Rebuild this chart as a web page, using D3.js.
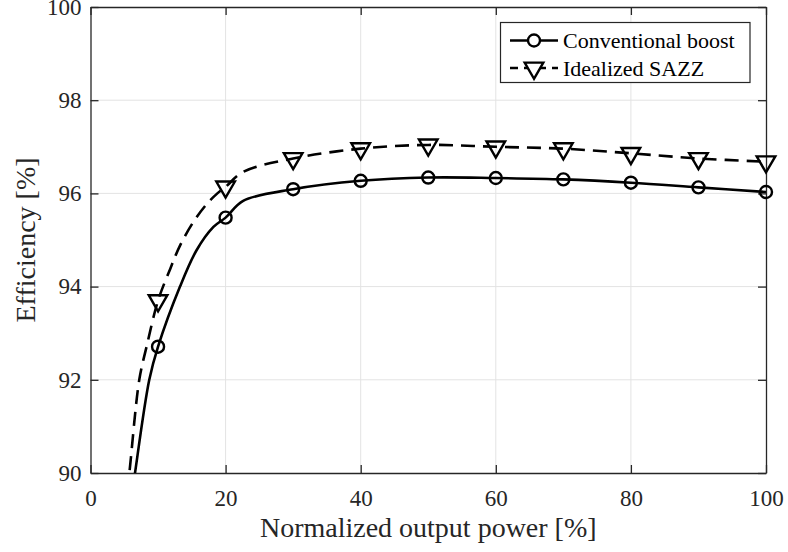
<!DOCTYPE html>
<html>
<head>
<meta charset="utf-8">
<script src="https://cdn.jsdelivr.net/npm/d3@7"></script>
<style>
  body { margin: 0; background: #fff; }
</style>
</head>
<body>
<svg id="chart" width="788" height="552"></svg>
<script>
// ticks
const xTicks = [0, 20, 40, 60, 80, 100];
const yTicks = [90, 92, 94, 96, 98, 100];

// marker points, every 10 %
const markerX = [10, 20, 30, 40, 50, 60, 70, 80, 90, 100];
const boostMarkers = [92.71, 95.48, 96.09, 96.27, 96.34, 96.33, 96.30, 96.23, 96.13, 96.03];
const sazzMarkers = [93.70, 96.14, 96.75, 96.96, 97.04, 97.00, 96.96, 96.86, 96.75, 96.68];

// curve points
const boostCurveX = [6.2, 6.59, 8.7, 10, 13.25, 15.7, 18.2, 20, 22.6, 30, 40, 50, 60, 70, 80, 90, 100];
const boostCurveY = [89.6, 90, 92, 92.71, 94, 94.78, 95.28, 95.48, 95.84, 96.09, 96.27, 96.34, 96.33, 96.30, 96.23, 96.13, 96.03];
const sazzCurveX = [5.4, 5.75, 7.22, 8.3, 10, 11.8, 13.25, 15.2, 17.2, 18.7, 20, 22.6, 30, 40, 50, 60, 70, 80, 90, 100];
const sazzCurveY = [89.6, 90, 92, 92.71, 93.70, 94.38, 94.88, 95.38, 95.77, 95.99, 96.14, 96.46, 96.75, 96.96, 97.04, 97.00, 96.96, 96.86, 96.75, 96.68];

const legendLabels = ['Conventional boost', 'Idealized SAZZ'];

const serif = '"Liberation Serif", Tinos, "Times New Roman", Times, serif';
const d3 = window.d3;
const svg = d3.select('#chart');

var margin = { top: 7, right: 22, bottom: 79, left: 90.5 },
  width = 788 - margin.left - margin.right,
  height = 552 - margin.top - margin.bottom;

var g = svg.append('g').attr('transform', `translate(${margin.left}, ${margin.top})`);

var x = d3.scaleLinear().domain([0, 100]).range([0, width]);
var y = d3.scaleLinear().domain([90, 100]).range([height, 0]);

// grid
g.append('g').selectAll('line').data(xTicks.slice(1, -1)).enter().append('line')
  .attr('x1', d => x(d)).attr('x2', d => x(d))
  .attr('y1', 0).attr('y2', height)
  .attr('stroke', '#e3e3e3').attr('stroke-width', 1);
g.append('g').selectAll('line').data(yTicks.slice(1, -1)).enter().append('line')
  .attr('y1', d => y(d)).attr('y2', d => y(d))
  .attr('x1', 0).attr('x2', width)
  .attr('stroke', '#e3e3e3').attr('stroke-width', 1);

// axes, MATLAB style: ticks inward on all four sides
const axisColor = '#262626';
function styleAxis(sel) {
  sel.attr('font-family', serif).attr('font-size', 23);
  sel.select('.domain').attr('stroke', axisColor).attr('stroke-width', 1.3);
  sel.selectAll('.tick line').attr('stroke', axisColor).attr('stroke-width', 1.3);
  sel.selectAll('text').attr('fill', '#262626')
    .style('font-family', serif).style('font-size', '23px');
}

var xAxis = g.append('g').attr('transform', `translate(0, ${height})`)
  .call(d3.axisBottom(x).tickValues(xTicks).tickSizeInner(-8).tickSizeOuter(0).tickPadding(17));
styleAxis(xAxis);
var xTop = g.append('g')
  .call(d3.axisTop(x).tickValues(xTicks).tickSizeInner(-8).tickSizeOuter(0).tickFormat(''));
styleAxis(xTop);
var yAxis = g.append('g')
  .call(d3.axisLeft(y).tickValues(yTicks).tickSizeInner(-8).tickSizeOuter(0).tickPadding(9));
styleAxis(yAxis);
var yRight = g.append('g').attr('transform', `translate(${width}, 0)`)
  .call(d3.axisRight(y).tickValues(yTicks).tickSizeInner(-8).tickSizeOuter(0).tickFormat(''));
styleAxis(yRight);

// clip for curves
svg.append('defs').append('clipPath').attr('id', 'plot-clip')
  .append('rect').attr('x', 0).attr('y', 0).attr('width', width).attr('height', height);

var line = d3.line()
  .x(d => x(d[0]))
  .y(d => y(d[1]))
  .curve(d3.curveCatmullRom.alpha(0.5));

var plot = g.append('g').attr('clip-path', 'url(#plot-clip)');

plot.append('path')
  .datum(sazzCurveX.map((v, i) => [v, sazzCurveY[i]]))
  .attr('d', line)
  .attr('fill', 'none').attr('stroke', '#000').attr('stroke-width', 2.6)
  .attr('stroke-dasharray', '14,8');

plot.append('path')
  .datum(boostCurveX.map((v, i) => [v, boostCurveY[i]]))
  .attr('d', line)
  .attr('fill', 'none').attr('stroke', '#000').attr('stroke-width', 2.6);

// markers
const tri = d3.symbol().type(d3.symbolTriangle).size(150);

g.append('g').selectAll('circle').data(markerX).enter().append('circle')
  .attr('cx', d => x(d))
  .attr('cy', (d, i) => y(boostMarkers[i]))
  .attr('r', 6)
  .attr('fill', 'none').attr('stroke', '#000').attr('stroke-width', 2.4);

g.append('g').selectAll('path').data(markerX).enter().append('path')
  .attr('d', tri)
  .attr('transform', (d, i) => `translate(${x(d)}, ${y(sazzMarkers[i])}) rotate(180)`)
  .attr('fill', 'none').attr('stroke', '#000').attr('stroke-width', 2.4);

// axis titles
svg.append('text')
  .attr('x', margin.left + width / 2).attr('y', 537)
  .attr('text-anchor', 'middle')
  .style('font-family', serif).style('font-size', '28px').attr('fill', '#262626')
  .text('Normalized output power [%]');

svg.append('text')
  .attr('transform', `translate(35, ${margin.top + height / 2}) rotate(-90)`)
  .attr('text-anchor', 'middle')
  .style('font-family', serif).style('font-size', '28px').attr('fill', '#262626')
  .text('Efficiency [%]');

// legend
var legend = svg.append('g');
legend.append('rect')
  .attr('x', 500.5).attr('y', 22.5).attr('width', 249.5).attr('height', 60)
  .attr('fill', '#fff').attr('stroke', axisColor).attr('stroke-width', 1.2);

legendLabels.forEach((label, i) => {
  var ly = 40.5 + i * 27.5;
  legend.append('line')
    .attr('x1', 510).attr('x2', 558).attr('y1', ly).attr('y2', ly)
    .attr('stroke', '#000').attr('stroke-width', 2.6)
    .attr('stroke-dasharray', i === 1 ? '8,6' : null);
  if (i === 0) {
    legend.append('circle').attr('cx', 534).attr('cy', ly).attr('r', 6)
      .attr('fill', '#fff').attr('stroke', '#000').attr('stroke-width', 2.4);
  } else {
    legend.append('path').attr('d', tri)
      .attr('transform', `translate(534, ${ly}) rotate(180)`)
      .attr('fill', '#fff').attr('stroke', '#000').attr('stroke-width', 2.4);
  }
  legend.append('text')
    .attr('x', 563).attr('y', ly).attr('dy', '0.35em')
    .style('font-family', serif).style('font-size', '22px').attr('fill', '#000')
    .text(label);
});
</script>
</body>
</html>
